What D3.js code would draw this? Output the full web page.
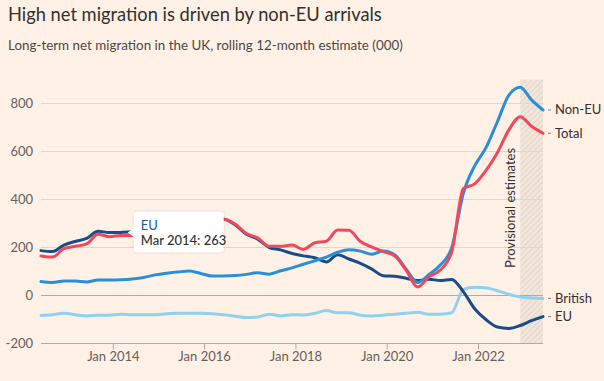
<!DOCTYPE html>
<html><head><meta charset="utf-8">
<script src="https://cdn.jsdelivr.net/npm/d3@7"></script>
<style>
html,body{margin:0;padding:0;background:#fff1e5;}
svg{display:block;font-family:Lato,"Open Sans",sans-serif;}
</style></head><body>
<svg id="c" width="604" height="381"></svg>
<script>
const periods = ["Jun 2012","Sep 2012","Dec 2012","Mar 2013","Jun 2013","Sep 2013","Dec 2013","Mar 2014","Jun 2014","Sep 2014","Dec 2014","Mar 2015","Jun 2015","Sep 2015","Dec 2015","Mar 2016","Jun 2016","Sep 2016","Dec 2016","Mar 2017","Jun 2017","Sep 2017","Dec 2017","Mar 2018","Jun 2018","Sep 2018","Dec 2018","Mar 2019","Jun 2019","Sep 2019","Dec 2019","Mar 2020","Jun 2020","Sep 2020","Dec 2020","Mar 2021","Jun 2021","Sep 2021","Dec 2021","Mar 2022","Jun 2022","Sep 2022","Dec 2022","Mar 2023","Jun 2023"];
const british = [-83,-80,-74,-80,-85,-82,-82,-78,-80,-80,-80,-76,-74,-74,-74,-76,-80,-86,-92,-90,-78,-85,-80,-81,-74,-63,-72,-72,-82,-85,-82,-78,-74,-70,-78,-78,-72,25,34,32,20,5,-6,-10,-12];
const eu = [187,183,210,225,238,268,262,263,266,275,285,295,300,305,310,315,318,295,255,235,200,190,175,165,157,140,170,152,134,110,82,80,72,62,68,62,67,16,-55,-100,-131,-137,-125,-105,-88];
const nonEU = [58,54,60,60,56,65,65,66,69,75,86,93,98,102,92,81,81,83,88,95,89,103,115,130,145,160,180,191,185,172,185,170,110,54,88,127,200,425,540,615,724,835,868,815,773];
const total = [165,160,195,205,215,255,245,250,250,265,280,290,295,300,305,312,318,298,258,240,205,205,210,192,220,226,273,272,225,202,183,165,105,35,78,106,182,445,465,520,595,690,745,705,676];
const yTicks = [-200,0,200,400,600,800];
const xTickLabels = ["Jan 2014","Jan 2016","Jan 2018","Jan 2020","Jan 2022"];
const provisionalFrom = "Dec 2022";
const tip = {series:"EU", period:"Mar 2014", value:263};

const parse = d3.timeParse("%b %Y");
const dates = periods.map(parse);
const svg = d3.select("#c");
const x = d3.scaleTime().domain([dates[0], dates[dates.length-1]]).range([41, 543]);
const y = d3.scaleLinear().domain([-200, 900]).range([343.5, 79.5]);

// title
svg.append("text").attr("x",8).attr("y",21).attr("font-size",18.3).attr("fill","#33302e").text("High net migration is driven by non-EU arrivals");
svg.append("text").attr("x",8).attr("y",50).attr("font-size",13.4).attr("fill","#4d4845").text("Long-term net migration in the UK, rolling 12-month estimate (000)");

// hatch pattern
const defs = svg.append("defs");
const pat = defs.append("pattern").attr("id","hatch").attr("patternUnits","userSpaceOnUse").attr("width",4).attr("height",4).attr("patternTransform","rotate(45)");
pat.append("rect").attr("width",4).attr("height",4).attr("fill","#f2e5da");
pat.append("line").attr("x1",0).attr("y1",0).attr("x2",0).attr("y2",4).attr("stroke","#d6cac0").attr("stroke-width",1.2);
svg.append("rect").attr("x",x(parse(provisionalFrom))).attr("y",y(900)).attr("width",x(dates[dates.length-1])-x(parse(provisionalFrom))).attr("height",y(-200)-y(900)).attr("fill","url(#hatch)");

// gridlines
const g = svg.append("g");
yTicks.forEach(t=>{
  g.append("line").attr("x1",41).attr("x2",543).attr("y1",y(t)).attr("y2",y(t))
   .attr("stroke", (t===0||t===-200)?"#b5aaa2":"#e2d6cb").attr("stroke-width",1);
  g.append("text").attr("x",33).attr("y",y(t)+4.5).attr("text-anchor","end").attr("font-size",13).attr("fill","#66605c").text(t);
});
// x axis ticks
xTickLabels.forEach(l=>{
  const xx = x(parse(l));
  g.append("line").attr("x1",xx).attr("x2",xx).attr("y1",y(-200)).attr("y2",y(-200)+6).attr("stroke","#b5aaa2");
  g.append("text").attr("x",xx).attr("y",361).attr("text-anchor","middle").attr("font-size",13).attr("fill","#66605c").text(l);
});

// provisional label
svg.append("text").attr("transform",`translate(${x(parse(provisionalFrom))-5},268) rotate(-90)`).attr("font-size",13).attr("fill","#33302e").text("Provisional estimates");

const line = d3.line().x((d,i)=>x(dates[i])).y(d=>y(d)).curve(d3.curveMonotoneX);
const series = [
  {name:"British", vals:british, color:"#8fd1ee"},
  {name:"EU", vals:eu, color:"#1a4c88"},
  {name:"Non-EU", vals:nonEU, color:"#2a8fd6"},
  {name:"Total", vals:total, color:"#f2485c"}
];
series.forEach(s=>{
  svg.append("path").attr("d",line(s.vals)).attr("fill","none").attr("stroke",s.color).attr("stroke-width",3).attr("stroke-linejoin","round").attr("stroke-linecap","round");
});
// end labels
series.forEach(s=>{
  const yy = y(s.vals[s.vals.length-1]);
  svg.append("line").attr("x1",548).attr("x2",551).attr("y1",yy).attr("y2",yy).attr("stroke","#8a817b");
  svg.append("text").attr("x",555).attr("y",yy+4.5).attr("font-size",13).attr("fill","#33302e").text(s.name);
});

// tooltip
const ti = periods.indexOf(tip.period);
const px = x(dates[ti]) + 7, py = y(tip.value);
const tg = svg.append("g").attr("transform",`translate(${px},${py})`);
tg.append("rect").attr("x",6).attr("y",-21).attr("width",90).attr("height",41).attr("rx",3).attr("fill","#ffffff").attr("filter","drop-shadow(0 0 1px rgba(0,0,0,0.15))");
tg.append("path").attr("d","M0,0 L7,-5 L7,5 Z").attr("fill","#ffffff");
tg.append("text").attr("x",13).attr("y",-2.5).attr("font-size",13).attr("fill","#1a5a9e").text(tip.series);
tg.append("text").attr("x",13).attr("y",13).attr("font-size",13).attr("fill","#33302e").attr("font-weight",500).text(`${tip.period}: ${tip.value}`);
</script>
</body></html>
